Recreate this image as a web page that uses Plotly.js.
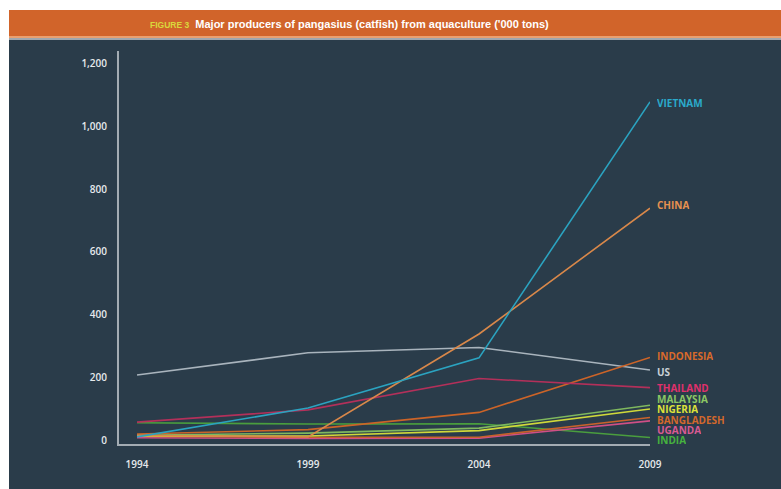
<!DOCTYPE html>
<html>
<head>
<meta charset="utf-8">
<script src="https://cdn.plot.ly/plotly-3.0.1.min.js"></script>
<style>html,body{margin:0;padding:0;background:#fff;}#chart{width:781px;height:489px;}</style>
</head>
<body>
<div id="chart"></div>
<script>
// Data ('000 tons)
const years = [1994, 1999, 2004, 2009];
const countries = ["VIETNAM", "CHINA", "INDONESIA", "US", "THAILAND", "MALAYSIA", "NIGERIA", "BANGLADESH", "UGANDA", "INDIA"];
const vietnam    = [10, 102, 262, 1078];
const china      = [15, 10, 338, 739];
const indonesia  = [19, 33, 88, 263];
const us         = [207, 278, 295, 223];
const thailand   = [57, 96, 196, 167];
const malaysia   = [15, 22, 38, 111];
const nigeria    = [13, 13, 30, 99];
const bangladesh = [12, 9, 9, 72];
const uganda     = [7, 5, 6, 61];
const india      = [55, 51, 52, 8];
const yTicks = [0, 200, 400, 600, 800, 1000, 1200];
const yTickText = ["0", "200", "400", "600", "800", "1,000", "1,200"];

const series = [
  {name: "US", y: us, line: "#a9b4bd", label: "#c9d1d6", ly: 371},
  {name: "INDIA", y: india, line: "#4a9e3e", label: "#46b23e", ly: 439},
  {name: "UGANDA", y: uganda, line: "#cf4f86", label: "#d85a92", ly: 429},
  {name: "BANGLADESH", y: bangladesh, line: "#c8622c", label: "#d2682c", ly: 419},
  {name: "NIGERIA", y: nigeria, line: "#cfd83a", label: "#dde23a", ly: 408},
  {name: "MALAYSIA", y: malaysia, line: "#7fb85e", label: "#8cc764", ly: 398},
  {name: "INDONESIA", y: indonesia, line: "#cc6428", label: "#d86a2a", ly: 355},
  {name: "THAILAND", y: thailand, line: "#b3305a", label: "#e0306c", ly: 387},
  {name: "CHINA", y: china, line: "#d9884a", label: "#e69150", ly: 205},
  {name: "VIETNAM", y: vietnam, line: "#2ba3c0", label: "#2aaacb", ly: 102}
];

// plot area in pixels
const L = 119, R = 650, T = 51, B = 444;
const px = x => (x - L) / (R - L);
const py = y => (B - y) / (B - T);

const traces = series.map(s => ({
  type: "scatter", mode: "lines", x: years, y: s.y, name: s.name,
  line: {color: s.line, width: 1.6}, hoverinfo: "skip"
}));

const annotations = series.map(s => ({
  xref: "paper", yref: "paper", x: px(656), y: py(s.ly),
  xanchor: "left", yanchor: "middle", showarrow: false,
  height: 9, borderpad: 0,
  text: s.name,
  font: {family: "Open Sans, sans-serif", size: 10, color: s.label, weight: 700}
}));

const shapes = [
  {type: "rect", xref: "paper", yref: "paper", layer: "below",
   x0: px(9), x1: px(781), y0: py(489), y1: py(40), fillcolor: "#2a3c4a", line: {width: 0}},
  {type: "rect", xref: "paper", yref: "paper", layer: "below",
   x0: px(9), x1: px(781), y0: py(38), y1: py(40), fillcolor: "#9ea6ad", line: {width: 0}},
  {type: "rect", xref: "paper", yref: "paper", layer: "below",
   x0: px(9), x1: px(781), y0: py(36), y1: py(38), fillcolor: "#e9a070", line: {width: 0}},
  {type: "rect", xref: "paper", yref: "paper", layer: "below",
   x0: px(9), x1: px(781), y0: py(36), y1: py(10), fillcolor: "#d1642a", line: {width: 0}}
];

const layout = {
  width: 781, height: 489,
  margin: {l: L, r: 781 - R, t: T, b: 489 - B, pad: 0},
  paper_bgcolor: "#ffffff", plot_bgcolor: "rgba(0,0,0,0)",
  showlegend: false,
  title: {
    text: '<span style="color:#d9d83c;font-size:8.5px">FIGURE 3</span>  Major producers of pangasius (catfish) from aquaculture (\'000 tons)',
    xref: "container", yref: "container", x: 150 / 781, xanchor: "left",
    y: 1 - 24 / 489, yanchor: "middle",
    font: {family: "Liberation Sans Narrow, Arial Narrow, Liberation Sans, sans-serif", size: 11, color: "#ffffff", weight: 700}
  },
  xaxis: {
    range: [1994 - 18 / 170.7 * 5, 2009], tickvals: years, ticktext: years.map(String),
    showgrid: false, zeroline: false, showline: true, linecolor: "#a3acb3", linewidth: 2,
    ticks: "", ticklabelstandoff: 10,
    tickfont: {family: "Open Sans, sans-serif", size: 10, color: "#e6eaed", weight: 600}
  },
  yaxis: {
    range: [-12.7, 1240], tickvals: yTicks, ticktext: yTickText,
    showgrid: false, zeroline: false, showline: true, linecolor: "#a3acb3", linewidth: 2,
    ticks: "", ticklabelstandoff: 8,
    tickfont: {family: "Open Sans, sans-serif", size: 10, color: "#e6eaed", weight: 600}
  },
  shapes: shapes,
  annotations: annotations
};

Plotly.newPlot("chart", traces, layout, {displayModeBar: false, staticPlot: true});
</script>
</body>
</html>
